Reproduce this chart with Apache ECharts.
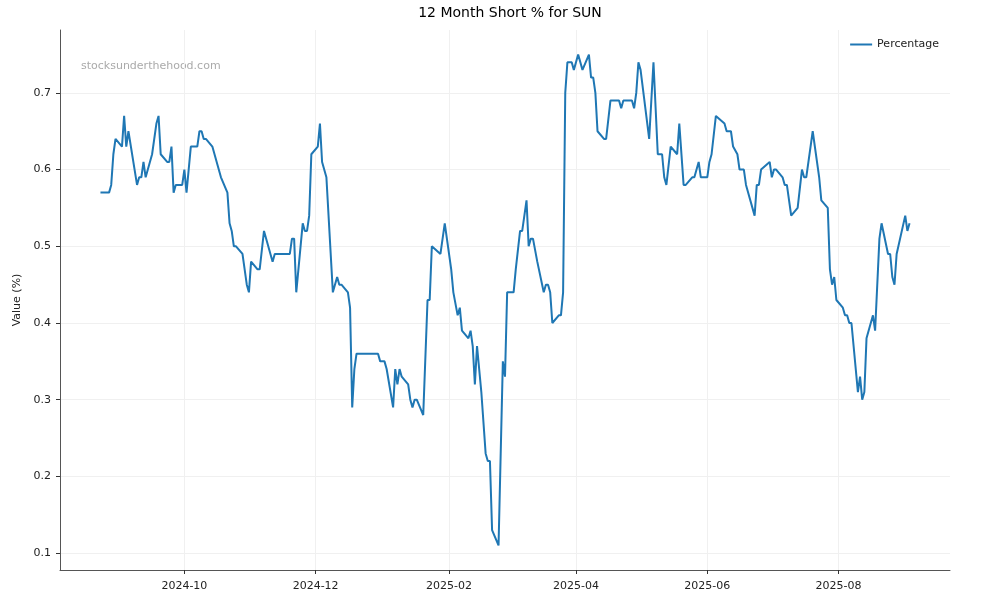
<!DOCTYPE html>
<html>
<head>
<meta charset="utf-8">
<script src="https://cdn.jsdelivr.net/npm/echarts@6/dist/echarts.min.js"></script>
<style>html,body{margin:0;padding:0;background:#fff}#c{width:1000px;height:600px}</style>
</head>
<body>
<div id="c"></div>
<script>
const dates = [
'2024-08-23','2024-08-27','2024-08-28','2024-08-29','2024-08-30','2024-09-02','2024-09-03','2024-09-04','2024-09-05',
'2024-09-09','2024-09-10','2024-09-11','2024-09-12','2024-09-13','2024-09-16','2024-09-18','2024-09-19','2024-09-20',
'2024-09-23','2024-09-24','2024-09-25','2024-09-26','2024-09-27','2024-09-30','2024-10-01','2024-10-02','2024-10-04',
'2024-10-07','2024-10-08','2024-10-09','2024-10-10','2024-10-11','2024-10-14','2024-10-18','2024-10-21','2024-10-22',
'2024-10-23','2024-10-24','2024-10-25','2024-10-28','2024-10-30','2024-10-31','2024-11-01','2024-11-04','2024-11-05',
'2024-11-07','2024-11-11','2024-11-12','2024-11-19','2024-11-20','2024-11-21','2024-11-22','2024-11-25','2024-11-26',
'2024-11-27','2024-11-28','2024-11-29','2024-12-02','2024-12-03','2024-12-04','2024-12-06','2024-12-09','2024-12-11',
'2024-12-12','2024-12-13','2024-12-16','2024-12-17','2024-12-18','2024-12-19','2024-12-20','2024-12-30','2024-12-31',
'2025-01-02','2025-01-03','2025-01-06','2025-01-07','2025-01-08','2025-01-09','2025-01-10','2025-01-13','2025-01-14',
'2025-01-15','2025-01-16','2025-01-17','2025-01-20','2025-01-22','2025-01-23','2025-01-24','2025-01-28','2025-01-30',
'2025-02-02','2025-02-03','2025-02-05','2025-02-06','2025-02-07','2025-02-10','2025-02-11','2025-02-12','2025-02-13',
'2025-02-14','2025-02-16','2025-02-18','2025-02-19','2025-02-20','2025-02-21','2025-02-24','2025-02-26','2025-02-27',
'2025-02-28','2025-03-03','2025-03-04','2025-03-06','2025-03-07','2025-03-09','2025-03-10','2025-03-11','2025-03-12',
'2025-03-14','2025-03-17','2025-03-18','2025-03-19','2025-03-20','2025-03-21','2025-03-24','2025-03-25','2025-03-26',
'2025-03-27','2025-03-28','2025-03-30','2025-03-31','2025-04-02','2025-04-04','2025-04-07','2025-04-08','2025-04-09',
'2025-04-10','2025-04-11','2025-04-14','2025-04-15','2025-04-17','2025-04-21','2025-04-22','2025-04-23','2025-04-27',
'2025-04-28','2025-04-29','2025-04-30','2025-05-01','2025-05-05','2025-05-07','2025-05-09','2025-05-11','2025-05-12',
'2025-05-13','2025-05-15','2025-05-18','2025-05-19','2025-05-21','2025-05-22','2025-05-25','2025-05-26','2025-05-28',
'2025-05-29','2025-06-01','2025-06-02','2025-06-03','2025-06-05','2025-06-09','2025-06-10','2025-06-12','2025-06-13',
'2025-06-15','2025-06-16','2025-06-18','2025-06-19','2025-06-23','2025-06-24','2025-06-25','2025-06-26','2025-06-30',
'2025-07-01','2025-07-02','2025-07-03','2025-07-06','2025-07-07','2025-07-08','2025-07-10','2025-07-13','2025-07-15',
'2025-07-16','2025-07-17','2025-07-20','2025-07-23','2025-07-24','2025-07-27','2025-07-28','2025-07-29','2025-07-30',
'2025-07-31','2025-08-03','2025-08-04','2025-08-05','2025-08-06','2025-08-07','2025-08-10','2025-08-11','2025-08-12',
'2025-08-13','2025-08-14','2025-08-17','2025-08-18','2025-08-20','2025-08-21','2025-08-24','2025-08-25','2025-08-26',
'2025-08-27','2025-08-28','2025-09-01','2025-09-02','2025-09-03'
];
const percentage = [
0.57,0.57,0.58,0.62,0.64,0.63,0.67,0.63,0.65,
0.58,0.59,0.59,0.61,0.59,0.62,0.66,0.67,0.62,
0.61,0.61,0.63,0.57,0.58,0.58,0.60,0.57,0.63,
0.63,0.65,0.65,0.64,0.64,0.63,0.59,0.57,0.53,
0.52,0.50,0.50,0.49,0.45,0.44,0.48,0.47,0.47,
0.52,0.48,0.49,0.49,0.51,0.51,0.44,0.53,0.52,
0.52,0.54,0.62,0.63,0.66,0.61,0.59,0.44,0.46,
0.45,0.45,0.44,0.42,0.29,0.34,0.36,0.36,0.35,
0.35,0.34,0.29,0.34,0.32,0.34,0.33,0.32,0.30,
0.29,0.30,0.30,0.28,0.43,0.43,0.50,0.49,0.53,
0.47,0.44,0.41,0.42,0.39,0.38,0.39,0.37,0.32,
0.37,0.31,0.23,0.22,0.22,0.13,0.11,0.35,0.33,
0.44,0.44,0.47,0.52,0.52,0.56,0.50,0.51,0.51,
0.48,0.44,0.45,0.45,0.44,0.40,0.41,0.41,0.44,
0.70,0.74,0.74,0.73,0.75,0.73,0.75,0.72,0.72,
0.70,0.65,0.64,0.64,0.69,0.69,0.68,0.69,0.69,
0.68,0.70,0.74,0.73,0.64,0.74,0.62,0.62,0.59,
0.58,0.63,0.62,0.66,0.58,0.58,0.59,0.59,0.61,
0.59,0.59,0.61,0.62,0.67,0.66,0.65,0.65,0.63,
0.62,0.60,0.60,0.58,0.54,0.58,0.58,0.60,0.61,
0.59,0.60,0.60,0.59,0.58,0.58,0.54,0.55,0.60,
0.59,0.59,0.65,0.59,0.56,0.55,0.47,0.45,0.46,
0.43,0.42,0.41,0.41,0.40,0.40,0.31,0.33,0.30,
0.31,0.38,0.41,0.39,0.51,0.53,0.49,0.49,0.46,
0.45,0.49,0.54,0.52,0.53
];
const xTickLabels = ['2024-10','2024-12','2025-02','2025-04','2025-06','2025-08'];
const yTickValues = [0.1,0.2,0.3,0.4,0.5,0.6,0.7];

function ts(s){ const p = s.split('-').map(Number); return Date.UTC(p[0], p[1]-1, p[2] || 1); }
const xs = dates.map(ts);
const xMin = xs[0], xMax = xs[xs.length-1];
const xPad = (xMax - xMin) * 0.05;
const vMin = Math.min(...percentage), vMax = Math.max(...percentage);
const yPad = (vMax - vMin) * 0.05;
const xTicks = xTickLabels.map(ts);

const font = 'DejaVu Sans';
const chart = echarts.init(document.getElementById('c'));
chart.setOption({
  animation: false,
  backgroundColor: '#fff',
  textStyle: { fontFamily: font },
  title: {
    text: '12 Month Short % for SUN',
    left: 505, top: 1, textAlign: 'center',
    textStyle: { fontFamily: font, fontSize: 14, fontWeight: 'normal', color: '#000' }
  },
  legend: {
    right: 56, top: 34,
    itemWidth: 22, itemHeight: 2, itemGap: 8,
    icon: 'rect',
    textStyle: { fontFamily: font, fontSize: 11, color: '#222' },
    data: ['Percentage']
  },
  graphic: [{
    type: 'text', left: 81, top: 61,
    style: { text: 'stocksunderthehood.com', fill: '#aaa', font: '11px "DejaVu Sans"' }
  }],
  grid: { left: 60, right: 50, top: 30, bottom: 30 },
  xAxis: {
    type: 'value',
    min: xMin - xPad, max: xMax + xPad,
    axisLine: { show: true, onZero: false, lineStyle: { color: '#555', width: 1 } },
    axisTick: { show: true, customValues: xTicks, length: 4, inside: false, lineStyle: { color: '#333' } },
    axisLabel: {
      customValues: xTicks, fontSize: 11, color: '#222', fontFamily: font, margin: 11,
      formatter: function (v) { const d = new Date(v); return d.getUTCFullYear() + '-' + String(d.getUTCMonth()+1).padStart(2,'0'); }
    },
    splitLine: { show: true, lineStyle: { color: '#f0f0f0', width: 1 } }
  },
  yAxis: {
    type: 'value',
    min: vMin - yPad, max: vMax + yPad,
    name: 'Value (%)', nameLocation: 'middle', nameGap: 37,
    nameTextStyle: { fontFamily: font, fontSize: 11, color: '#222' },
    axisLine: { show: true, onZero: false, lineStyle: { color: '#555', width: 1 } },
    axisTick: { show: true, customValues: yTickValues, length: 4, lineStyle: { color: '#333' } },
    axisLabel: { customValues: yTickValues, fontSize: 11, color: '#222', fontFamily: font, margin: 9,
      formatter: function (v) { return v.toFixed(1); } },
    splitLine: { show: true, lineStyle: { color: '#f0f0f0', width: 1 } }
  },
  series: [{
    name: 'Percentage',
    type: 'line',
    data: xs.map((x, i) => [x, percentage[i]]),
    showSymbol: false,
    symbol: 'none',
    lineStyle: { color: '#1f77b4', width: 2 },
    itemStyle: { color: '#1f77b4' }
  }]
});
</script>
</body>
</html>
